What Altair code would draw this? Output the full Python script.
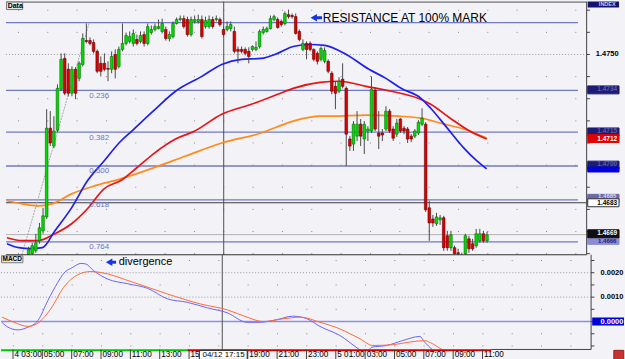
import altair as alt
import pandas as pd

# ----------------------------- data -----------------------------
bar_index = list(range(134))  # 15-minute bars, bar 0 = 4th 02:15
opens = [1.46577, 1.46550, 1.46532, 1.46559, 1.46541, 1.46568, 1.46586, 1.46600, 1.46613, 1.46658,
         1.46703, 1.46766, 1.47167, 1.47086, 1.47158, 1.47343, 1.47482, 1.47433, 1.47325, 1.47433,
         1.47392, 1.47455, 1.47563, 1.47563, 1.47554, 1.47514, 1.47460, 1.47460, 1.47437, 1.47433,
         1.47500, 1.47446, 1.47523, 1.47550, 1.47559, 1.47550, 1.47568, 1.47559, 1.47590, 1.47550,
         1.47599, 1.47613, 1.47617, 1.47604, 1.47613, 1.47572, 1.47581, 1.47640, 1.47658, 1.47662,
         1.47658, 1.47590, 1.47649, 1.47649, 1.47658, 1.47626, 1.47626, 1.47658, 1.47658, 1.47658,
         1.47613, 1.47613, 1.47617, 1.47604, 1.47523, 1.47523, 1.47523, 1.47514, 1.47523, 1.47523,
         1.47536, 1.47599, 1.47604, 1.47617, 1.47658, 1.47658, 1.47649, 1.47640, 1.47680, 1.47676,
         1.47671, 1.47604, 1.47523, 1.47550, 1.47550, 1.47523, 1.47505, 1.47478, 1.47469, 1.47469,
         1.47415, 1.47356, 1.47334, 1.47388, 1.47347, 1.47118, 1.47095, 1.47131, 1.47185, 1.47118,
         1.47154, 1.47154, 1.47338, 1.47145, 1.47145, 1.47163, 1.47244, 1.47163, 1.47140, 1.47208,
         1.47167, 1.47163, 1.47131, 1.47131, 1.47145, 1.47185, 1.47185, 1.46807, 1.46757, 1.46735,
         1.46753, 1.46762, 1.46681, 1.46627, 1.46627, 1.46604, 1.46591, 1.46600, 1.46667, 1.46645,
         1.46636, 1.46658, 1.46690, 1.46658]
highs = [1.46586, 1.46559, 1.46568, 1.46573, 1.46582, 1.46595, 1.46631, 1.46649, 1.46690, 1.46739,
         1.46807, 1.47253, 1.47244, 1.47221, 1.47365, 1.47505, 1.47505, 1.47460, 1.47446, 1.47442,
         1.47469, 1.47595, 1.47640, 1.47577, 1.47568, 1.47523, 1.47491, 1.47505, 1.47469, 1.47514,
         1.47523, 1.47536, 1.47640, 1.47599, 1.47604, 1.47613, 1.47590, 1.47604, 1.47604, 1.47640,
         1.47631, 1.47640, 1.47658, 1.47662, 1.47626, 1.47604, 1.47649, 1.47667, 1.47676, 1.47676,
         1.47671, 1.47671, 1.47676, 1.47680, 1.47676, 1.47671, 1.47676, 1.47671, 1.47676, 1.47667,
         1.47626, 1.47649, 1.47649, 1.47626, 1.47536, 1.47536, 1.47532, 1.47532, 1.47541, 1.47559,
         1.47613, 1.47626, 1.47626, 1.47676, 1.47680, 1.47667, 1.47658, 1.47694, 1.47703, 1.47685,
         1.47685, 1.47613, 1.47568, 1.47559, 1.47559, 1.47527, 1.47514, 1.47536, 1.47532, 1.47478,
         1.47424, 1.47379, 1.47397, 1.47460, 1.47356, 1.47131, 1.47199, 1.47244, 1.47208, 1.47199,
         1.47176, 1.47401, 1.47352, 1.47244, 1.47163, 1.47266, 1.47253, 1.47176, 1.47208, 1.47212,
         1.47176, 1.47172, 1.47140, 1.47163, 1.47203, 1.47257, 1.47194, 1.46839, 1.46775, 1.46784,
         1.46775, 1.46771, 1.46703, 1.46703, 1.46636, 1.46622, 1.46604, 1.46690, 1.46681, 1.46667,
         1.46712, 1.46712, 1.46703, 1.46699]
lows = [1.46541, 1.46514, 1.46523, 1.46532, 1.46532, 1.46555, 1.46577, 1.46591, 1.46604, 1.46645,
        1.46690, 1.46757, 1.47086, 1.47077, 1.47149, 1.47334, 1.47316, 1.47311, 1.47311, 1.47298,
        1.47379, 1.47446, 1.47550, 1.47541, 1.47505, 1.47415, 1.47401, 1.47424, 1.47379, 1.47415,
        1.47392, 1.47437, 1.47514, 1.47541, 1.47550, 1.47536, 1.47541, 1.47550, 1.47536, 1.47541,
        1.47590, 1.47604, 1.47613, 1.47595, 1.47563, 1.47559, 1.47572, 1.47635, 1.47649, 1.47617,
        1.47581, 1.47581, 1.47640, 1.47640, 1.47572, 1.47617, 1.47617, 1.47617, 1.47649, 1.47626,
        1.47581, 1.47604, 1.47604, 1.47505, 1.47460, 1.47505, 1.47496, 1.47460, 1.47514, 1.47514,
        1.47527, 1.47590, 1.47599, 1.47613, 1.47649, 1.47617, 1.47626, 1.47631, 1.47662, 1.47662,
        1.47590, 1.47559, 1.47514, 1.47478, 1.47514, 1.47469, 1.47455, 1.47469, 1.47460, 1.47415,
        1.47320, 1.47253, 1.47325, 1.47347, 1.46996, 1.47064, 1.47064, 1.47109, 1.47086, 1.47050,
        1.47109, 1.47145, 1.47154, 1.47073, 1.47109, 1.47154, 1.47145, 1.47109, 1.47127, 1.47145,
        1.47140, 1.47100, 1.47104, 1.47122, 1.47136, 1.47176, 1.46789, 1.46658, 1.46721, 1.46726,
        1.46730, 1.46613, 1.46613, 1.46613, 1.46577, 1.46577, 1.46568, 1.46591, 1.46604, 1.46613,
        1.46627, 1.46649, 1.46649, 1.46649]
closes = [1.46550, 1.46532, 1.46559, 1.46541, 1.46568, 1.46586, 1.46618, 1.46636, 1.46649, 1.46717,
          1.46771, 1.47167, 1.47100, 1.47154, 1.47347, 1.47478, 1.47325, 1.47325, 1.47433, 1.47325,
          1.47460, 1.47572, 1.47559, 1.47550, 1.47514, 1.47424, 1.47424, 1.47433, 1.47433, 1.47491,
          1.47433, 1.47523, 1.47550, 1.47586, 1.47581, 1.47595, 1.47550, 1.47586, 1.47550, 1.47626,
          1.47613, 1.47626, 1.47626, 1.47640, 1.47572, 1.47590, 1.47640, 1.47658, 1.47662, 1.47626,
          1.47590, 1.47658, 1.47658, 1.47658, 1.47581, 1.47653, 1.47658, 1.47626, 1.47662, 1.47635,
          1.47590, 1.47626, 1.47635, 1.47514, 1.47514, 1.47514, 1.47505, 1.47491, 1.47536, 1.47532,
          1.47604, 1.47613, 1.47617, 1.47662, 1.47671, 1.47622, 1.47635, 1.47685, 1.47671, 1.47671,
          1.47595, 1.47568, 1.47550, 1.47523, 1.47523, 1.47478, 1.47469, 1.47527, 1.47518, 1.47424,
          1.47334, 1.47325, 1.47379, 1.47356, 1.47140, 1.47086, 1.47185, 1.47185, 1.47131, 1.47185,
          1.47163, 1.47343, 1.47163, 1.47131, 1.47136, 1.47244, 1.47154, 1.47122, 1.47190, 1.47154,
          1.47154, 1.47118, 1.47118, 1.47154, 1.47194, 1.47212, 1.46798, 1.46739, 1.46739, 1.46766,
          1.46762, 1.46627, 1.46627, 1.46685, 1.46600, 1.46600, 1.46582, 1.46681, 1.46622, 1.46622,
          1.46690, 1.46690, 1.46658, 1.46685]

ma_blue_idx = [0, 3.3, 6.5, 9.8, 13.3, 17.9, 22.3, 26.9, 31.5, 34.5, 40.5, 46.7, 54, 59.5, 65,
               70.4, 75, 79.3, 84, 88, 94, 100.3, 105, 109.2, 114.7, 117.4, 122, 126.6, 130.2, 132.9]
ma_blue = [1.46645, 1.46627, 1.46623, 1.46627, 1.46704, 1.46807, 1.46929, 1.47019, 1.47108, 1.47153,
           1.47244, 1.47334, 1.47401, 1.47455, 1.47478, 1.47482, 1.47505, 1.47536, 1.47545, 1.47541,
           1.47500, 1.47433, 1.47392, 1.47347, 1.47302, 1.47257, 1.47167, 1.47077, 1.47019, 1.46983]
ma_red_idx = [0, 4.3, 8.7, 13.3, 17.9, 22.3, 26.9, 31.8, 35.9, 40.5, 46.7, 51.9, 59.5, 67.7, 75,
              79.3, 86.7, 92.1, 99.5, 106.5, 113.9, 117.4, 122.8, 128.3, 132.9]
ma_red = [1.46672, 1.46659, 1.46659, 1.46690, 1.46735, 1.46803, 1.46893, 1.46933, 1.46987, 1.47050,
          1.47118, 1.47153, 1.47230, 1.47275, 1.47320, 1.47347, 1.47374, 1.47379, 1.47356, 1.47334,
          1.47302, 1.47275, 1.47212, 1.47153, 1.47118]
ma_orange_idx = [0, 4.3, 8.7, 12.5, 17.9, 24.2, 31.5, 40.5, 49.5, 59.5, 70.4, 79.3, 86.7, 90.2,
                 99.5, 108.4, 114.7, 121.2, 126.6, 132.9]
ma_orange = [1.46839, 1.46825, 1.46816, 1.46825, 1.46870, 1.46906, 1.46938, 1.46987, 1.47041, 1.47100,
             1.47145, 1.47199, 1.47221, 1.47221, 1.47226, 1.47221, 1.47212, 1.47185, 1.47163, 1.47122]

macd_idx = [0, 1.6, 4.3, 7.1, 9.8, 12.5, 15.2, 16.8, 19.3, 21.5, 22.8, 25, 28.8, 34.2, 39.7, 45.1,
            50.5, 56, 61.4, 66.8, 70.4, 75, 79.3, 83.2, 86.7, 92.1, 97.6, 99.2, 100.8, 104.9, 109.2,
            113.9, 115.2, 117.4, 121, 127, 133]
macd_main = [-0.00003, -0.00023, -0.00034, -0.00023, 0.00004, 0.00086, 0.00160, 0.00197, 0.00222,
             0.00238, 0.00236, 0.00208, 0.00174, 0.00155, 0.00136, 0.00093, 0.00079, 0.00056, 0.00036,
             -0.00003, -0.00003, 0.00008, 0.00022, 0.00011, -0.00020, -0.00057, -0.00116, -0.00130,
             -0.00105, -0.00098, -0.00078, -0.00061, -0.00084, -0.00116, -0.00160, -0.00195, -0.00215]
signal_idx = [0, 3.3, 7.1, 10.1, 13.3, 16.8, 20.7, 24.2, 26.9, 35.9, 45.1, 54.1, 61.4, 66.8, 71.2,
              76.6, 81.3, 86.7, 92.1, 97.6, 101.1, 106.5, 111.1, 115.2, 117.4, 120.1, 126, 133]
signal = [0.00018, -0.00003, -0.00020, -0.00003, 0.00052, 0.00140, 0.00192, 0.00205, 0.00201, 0.00160,
          0.00113, 0.00072, 0.00048, 0.00018, 0.00000, 0.00011, 0.00018, -0.00003, -0.00030, -0.00071,
          -0.00098, -0.00095, -0.00084, -0.00078, -0.00091, -0.00116, -0.00145, -0.00170]

time_label_idx = [3, 11, 19, 27, 35, 43, 51, 59, 67, 75, 83, 91, 99, 107, 115, 123, 131]
# the 15:00 label is cut to "15" and the 17:00 label is hidden by the crosshair time box
time_labels = ["4 03:00", "05:00", "07:00", "09:00", "11:00", "13:00", "15", "", "19:00",
               "21:00", "23:00", "5 01:00", "03:00", "05:00", "07:00", "09:00", "11:00"]

fib_prices = [1.47644, 1.47338, 1.47149, 1.46996, 1.46843, 1.46653]
fib_labels = ["", "0.236", "0.382", "0.500", "0.618", "0.764"]
fib_anchor_idx = [-0.27, 22.8]
fib_anchor_price = [1.46347, 1.47644]

price_grid = [1.4660, 1.4670, 1.4680, 1.4690, 1.4700, 1.4710, 1.4720, 1.4730, 1.4740, 1.4750, 1.4760, 1.4770]
price_axis_label = 1.4750
macd_grid = [0.0025, 0.0020, 0.0015, 0.0010, 0.0005, 0.0, -0.0005, -0.0010]
macd_axis_labels = [0.0020, 0.0010]

crosshair_idx = 60.05          # 04/12 17:15
crosshair_price = 1.4683
crosshair_text = "04/12 17:15"
bid_price = 1.46686

tag_values = [1.4734, 1.4715, 1.4712, 1.4700, 1.4685, 1.4666, 1.4698, 1.4683, 1.4669]
tag_texts = ["1.4734", "1.4715", "1.4712", "1.4700", "1.4685", "1.4666", "", "1.4683", "1.4669"]
tag_kinds = ["fibo", "fibo", "ma_red", "fibo", "fibo_mid", "fibo_light", "ma_blue", "cross", "bid"]
tag_front = [False, False, False, False, False, False, True, True, True]

trend_start = [-0.27, 50.5]
trend_end = [50.5, 133.4]
trend_dir = ["up", "down"]

# ----------------------------- styles -----------------------------
BG = "#f3f2f6"
FONT = "Liberation Sans"
NARROW = "Liberation Sans Narrow, Liberation Sans"
CANDLE_FILL = {"up": "#00dc00", "down": "#dc0000"}
CANDLE_EDGE = {"up": "#007000", "down": "#6a0000"}
TAG_STYLE = {  # fill, text, edge, text size, text shift (price units)
    "fibo": ("#1c1c74", "#5c5cae", "#1c1c74", 6.5, 0.00004),
    "fibo_mid": ("#6a6aa8", "#d8d8f4", "#6a6aa8", 6.0, 0.00010),
    "fibo_light": ("#8c8cd4", "#1c1c74", "#8c8cd4", 6.0, -0.00004),
    "ma_red": ("#e00000", "#ffffff", "#e00000", 6.5, -0.00002),
    "ma_blue": ("#0000e0", "#ffffff", "#0000e0", 6.0, 0.0),
    "cross": ("#ffffff", "#000000", "#303030", 6.5, -0.00003),
    "bid": ("#101010", "#ffffff", "#101010", 6.5, 0.00002),
}

X0, X1 = -0.27, 169.57
FRAME_R = 160.6
FIB_END = 158.2
TAG_X0, TAG_XC = 160.9, 166.3
P_TOP, P_BOT = 1.47739, 1.46595
M_TOP, M_BOT = 0.002735, -0.001143
AX_Y, AX_BOT = -0.001368, -0.001551

xs = alt.Scale(domain=[X0, X1], nice=False, zero=False)
ysp = alt.Scale(domain=[P_BOT, P_TOP], nice=False, zero=False)
ysm = alt.Scale(domain=[M_BOT, M_TOP], nice=False, zero=False)

one = pd.DataFrame({"k": [0]})


def XD(v):
    return alt.XDatum(v, scale=xs, axis=None)


def X2D(v):
    return alt.X2Datum(v)


def YP(v):
    return alt.YDatum(v, scale=ysp, axis=None)


def YM(v):
    return alt.YDatum(v, scale=ysm, axis=None)


def Y2D(v):
    return alt.Y2Datum(v)


def hline(y, x0, x1, yfn, **kw):
    return alt.Chart(one).mark_rule(**kw).encode(x=XD(x0), x2=X2D(x1), y=yfn(y))


def vline(x, y0, y1, yfn, **kw):
    return alt.Chart(one).mark_rule(**kw).encode(x=XD(x), y=yfn(y0), y2=Y2D(y1))


def label(x, y, text, yfn, **kw):
    return alt.Chart(one).mark_text(text=text, **kw).encode(x=XD(x), y=yfn(y))


def box(x0, x1, y0, y1, yfn, **kw):
    return alt.Chart(one).mark_rect(**kw).encode(x=XD(x0), x2=X2D(x1), y=yfn(y0), y2=Y2D(y1))


def ylist(field, scale):
    return alt.Y(field, scale=scale, axis=None)


xi = alt.X("i:Q", scale=xs, axis=None)

# ----------------------------- main panel -----------------------------
candles = pd.DataFrame({"i": bar_index, "o": opens, "h": highs, "l": lows, "c": closes})
candles["dir"] = ["up" if c >= o else "down" for o, c in zip(opens, closes)]
candles["fill"] = candles["dir"].map(CANDLE_FILL)
candles["edge"] = candles["dir"].map(CANDLE_EDGE)

grid_sparse = alt.Chart(pd.DataFrame({"p": [p for p in price_grid if p != price_axis_label]})).mark_rule(
    color="#8a8a8a", strokeWidth=1, strokeDash=[1, 28.43], strokeDashOffset=17.43
).encode(x=XD(X0), x2=X2D(FRAME_R), y=ylist("p:Q", ysp))
grid_dense = hline(price_axis_label, X0, FRAME_R, YP, color="#9a9a9a", strokeWidth=1, strokeDash=[1, 2])

fib_df = pd.DataFrame({"p": fib_prices, "lab": fib_labels})
fib_lines = alt.Chart(fib_df).mark_rule(color="#7078c4", strokeWidth=1.3).encode(
    x=XD(X0), x2=X2D(FIB_END), y=ylist("p:Q", ysp))
fib_text = alt.Chart(fib_df).mark_text(
    align="left", baseline="top", dy=1.5, font=FONT, fontSize=8, color="#6c74c0"
).encode(x=XD(22.8), y=ylist("p:Q", ysp), text="lab:N")

fib_diag = alt.Chart(one).mark_rule(color="#a8a8a8", strokeWidth=1, strokeDash=[2, 1], clip=True).encode(
    x=XD(fib_anchor_idx[0]), x2=X2D(fib_anchor_idx[1]), y=YP(fib_anchor_price[0]), y2=Y2D(fib_anchor_price[1]))

bid_line = hline(bid_price, X0, FRAME_R, YP, color="#b2b2b2", strokeWidth=1)
cross_h = hline(crosshair_price, X0, FRAME_R, YP, color="#3c3c3c", strokeWidth=1)
cross_v_main = vline(crosshair_idx, P_BOT, P_TOP, YP, color="#505050", strokeWidth=1)


def ma_layer(idx, vals, color):
    return alt.Chart(pd.DataFrame({"i": idx, "p": vals})).mark_line(
        color=color, strokeWidth=1.7, interpolate="monotone", clip=True
    ).encode(x=xi, y=ylist("p:Q", ysp))


ma_o = ma_layer(ma_orange_idx, ma_orange, "#ff8c1a")
ma_r = ma_layer(ma_red_idx, ma_red, "#e81414")
ma_b = ma_layer(ma_blue_idx, ma_blue, "#2020ee")

wicks = alt.Chart(candles).mark_rule(color="#4a4a4a", strokeWidth=1, clip=True).encode(
    x=xi, y=ylist("l:Q", ysp), y2="h:Q")
bodies = alt.Chart(candles).mark_bar(size=2.6, strokeWidth=0.6, clip=True).encode(
    x=xi, y=ylist("o:Q", ysp), y2="c:Q",
    color=alt.Color("fill:N", scale=None), stroke=alt.Stroke("edge:N", scale=None))

res_text = label(87.5, 1.47666, "RESISTANCE AT 100% MARK", YP, align="left", baseline="middle",
                 font=FONT, fontSize=12, color="#000000")
res_shaft = hline(1.47666, 85.6, 87.3, YP, color="#1434e6", strokeWidth=3)
res_head = alt.Chart(one).mark_point(shape="triangle-left", filled=True, size=55, color="#1434e6",
                                     opacity=1).encode(x=XD(85.0), y=YP(1.47666))

frame_top = hline(1.477367, X0, FRAME_R, YP, color="#505050", strokeWidth=1)
frame_bot = hline(P_BOT, X0, FRAME_R, YP, color="#303030", strokeWidth=1)
frame_right = vline(FRAME_R, P_BOT, P_TOP, YP, color="#404040", strokeWidth=1)
ticks_main = alt.Chart(pd.DataFrame({"p": price_grid})).mark_rule(color="#404040").encode(
    x=XD(FRAME_R), x2=X2D(161.5), y=ylist("p:Q", ysp))
axis_lab_main = label(TAG_XC, price_axis_label, "1.4750", YP, align="center", baseline="middle",
                      font=NARROW, fontSize=7.5, fontWeight="bold", color="#000000")

tags = pd.DataFrame({"v": tag_values, "txt": tag_texts, "kind": tag_kinds, "front": tag_front})
tags["fill"] = tags["kind"].map(lambda k: TAG_STYLE[k][0])
tags["tc"] = tags["kind"].map(lambda k: TAG_STYLE[k][1])
tags["edge"] = tags["kind"].map(lambda k: TAG_STYLE[k][2])
tags["fs"] = tags["kind"].map(lambda k: TAG_STYLE[k][3])
tags["ty"] = tags["v"] + tags["kind"].map(lambda k: TAG_STYLE[k][4])
tags["half"] = [0.00011 if k == "ma_blue" else 0.00018 for k in tag_kinds]
tags["lo"] = tags["v"] - tags["half"]
tags["hi"] = tags["v"] + tags["half"]


def tag_layers(df):
    r = alt.Chart(df).mark_rect(strokeWidth=1).encode(
        x=XD(TAG_X0), x2=X2D(X1), y=ylist("lo:Q", ysp), y2="hi:Q",
        color=alt.Color("fill:N", scale=None), stroke=alt.Stroke("edge:N", scale=None))
    t = alt.Chart(df).mark_text(font=NARROW, fontWeight="bold", baseline="middle").encode(
        x=XD(TAG_XC), y=ylist("ty:Q", ysp), text="txt:N", color=alt.Color("tc:N", scale=None),
        size=alt.Size("fs:Q", scale=None))
    return [r, t]


tag_back = tag_layers(tags[~tags["front"]])
tag_fr = tag_layers(tags[tags["front"]])

index_box = box(TAG_X0, X1, P_TOP, 1.47712, YP, color="#141470")
index_text = label(TAG_XC, 1.47726, "INDEX", YP, align="center", baseline="middle", font=FONT,
                   fontSize=5.5, fontWeight="bold", color="#c8c8ec")
data_box = box(-0.13, 4.35, 1.477367, 1.47703, YP, color="#e6e6e6", stroke="#7a7a7a", strokeWidth=1)
data_text = label(0.2, 1.47721, "Data", YP, align="left", baseline="middle", font=FONT, fontSize=7,
                  fontWeight="bold", color="#000000")

main = alt.layer(
    grid_sparse, grid_dense, fib_lines, bid_line, cross_h, cross_v_main, fib_diag,
    ma_o, ma_r, ma_b, wicks, bodies, fib_text, res_text, res_shaft, res_head,
    frame_top, frame_bot, frame_right, ticks_main, axis_lab_main,
    *tag_back, *tag_fr, index_box, index_text, data_box, data_text
).properties(width=625, height=254)

# ----------------------------- MACD panel -----------------------------
mgrid_sparse = alt.Chart(pd.DataFrame({"v": [v for v in macd_grid if v not in macd_axis_labels and v != 0.0]})).mark_rule(
    color="#8a8a8a", strokeWidth=1, strokeDash=[1, 28.43], strokeDashOffset=17.43
).encode(x=XD(X0), x2=X2D(FRAME_R), y=ylist("v:Q", ysm))
mgrid_dense = alt.Chart(pd.DataFrame({"v": macd_axis_labels})).mark_rule(
    color="#9a9a9a", strokeWidth=1, strokeDash=[1, 2]
).encode(x=XD(X0), x2=X2D(FRAME_R), y=ylist("v:Q", ysm))
zero_line = hline(0.0, X0, FRAME_R, YM, color="#8e8eea", strokeWidth=1.6)
cross_v_macd = vline(crosshair_idx, M_BOT, M_TOP, YM, color="#505050", strokeWidth=1)

macd_line = alt.Chart(pd.DataFrame({"i": macd_idx, "v": macd_main})).mark_line(
    color="#6464ff", strokeWidth=1, interpolate="monotone", clip=True).encode(x=xi, y=ylist("v:Q", ysm))
signal_line = alt.Chart(pd.DataFrame({"i": signal_idx, "v": signal})).mark_line(
    color="#ff6a36", strokeWidth=1, interpolate="monotone", clip=True).encode(x=xi, y=ylist("v:Q", ysm))

macd_box = box(-0.13, 5.7, 0.002694, 0.002408, YM, color="#e6e6e6", stroke="#7a7a7a", strokeWidth=1)
macd_text = label(0.15, 0.00255, "MACD", YM, align="left", baseline="middle", font=FONT, fontSize=6.5,
                  fontWeight="bold", color="#000000")
div_text = label(31.8, 0.00245, "divergence", YM, align="left", baseline="middle", font=FONT,
                 fontSize=11, color="#000000")
div_shaft = hline(0.00243, 29.7, 31.1, YM, color="#1434e6", strokeWidth=3)
div_head = alt.Chart(one).mark_point(shape="triangle-left", filled=True, size=55, color="#1434e6",
                                     opacity=1).encode(x=XD(29.2), y=YM(0.00243))

trend = pd.DataFrame({"a": trend_start, "b": trend_end, "d": trend_dir})
trend["col"] = trend["d"].map({"up": "#00c800", "down": "#d00000"})
trend_strip = alt.Chart(trend).mark_rule(strokeWidth=2).encode(
    x=alt.X("a:Q", scale=xs, axis=None), x2="b:Q", y=YM(-0.001172),
    color=alt.Color("col:N", scale=None))
mframe_bot = hline(M_BOT, 133.4, FRAME_R, YM, color="#404040", strokeWidth=1)
mframe_right = vline(FRAME_R, M_BOT, M_TOP, YM, color="#404040", strokeWidth=1)
ticks_macd = alt.Chart(pd.DataFrame({"v": macd_grid})).mark_rule(color="#404040").encode(
    x=XD(FRAME_R), x2=X2D(161.5), y=ylist("v:Q", ysm))
macd_labels = alt.Chart(pd.DataFrame({"v": macd_axis_labels, "t": ["0.0020", "0.0010"]})).mark_text(
    font=NARROW, fontSize=7.5, fontWeight="bold", baseline="middle", color="#000000"
).encode(x=XD(TAG_XC), y=ylist("v:Q", ysm), text="t:N")
zero_tag = box(TAG_X0, X1, -0.000163, 0.000163, YM, color="#0000d8")
zero_text = label(TAG_XC, 0.0, "0.0000", YM, align="center", baseline="middle", font=NARROW,
                  fontSize=7.5, fontWeight="bold", color="#ffffff")

tl = pd.DataFrame({"i": time_label_idx, "t": time_labels})
time_ticks = alt.Chart(tl).mark_rule(color="#404040", strokeWidth=1).encode(
    x=xi, y=YM(M_BOT), y2=Y2D(AX_BOT))
time_text = alt.Chart(tl).mark_text(align="left", baseline="middle", dx=1.5, font=FONT, fontSize=8.2,
                                    color="#000000").encode(x=xi, y=YM(AX_Y), text="t:N")
cross_box = box(53.8, 66.85, -0.00118, AX_BOT, YM, color="#ffffff", stroke="#202020", strokeWidth=1)
cross_text = label(60.4, AX_Y, crosshair_text, YM, align="center", baseline="middle", font=FONT,
                   fontSize=8, color="#000000")
icon_box = box(166.8, 169.5, -0.00118, AX_BOT, YM, color="#c83232", stroke="#9a1e1e", strokeWidth=1)

macd = alt.layer(
    mgrid_sparse, mgrid_dense, zero_line, cross_v_macd, macd_line, signal_line,
    macd_box, macd_text, div_text, div_shaft, div_head,
    trend_strip, mframe_bot, mframe_right, ticks_macd, macd_labels, zero_tag, zero_text,
    time_ticks, time_text, cross_box, cross_text, icon_box
).properties(width=625, height=95)

chart = alt.vconcat(main, macd, spacing=0, bounds="flush").properties(
    padding=0, background=BG
).configure_view(strokeWidth=0)

chart.save("out.html", embed_options={"renderer": "svg", "actions": False})
